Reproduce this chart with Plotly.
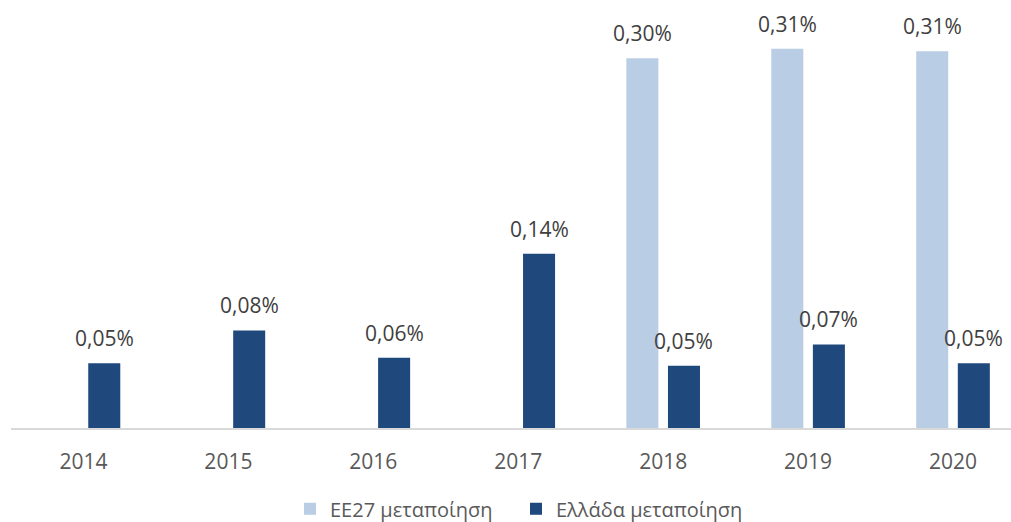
import plotly.graph_objects as go

# Share of manufacturing, % (EU27 vs Greece)
years = ["2014", "2015", "2016", "2017", "2018", "2019", "2020"]
eu27_values = [None, None, None, None, 0.3007, 0.3083, 0.3063]
greece_values = [0.0527, 0.0793, 0.0571, 0.1416, 0.0506, 0.0679, 0.0527]

eu27_name = "ΕΕ27 μεταποίηση"
greece_name = "Ελλάδα μεταποίηση"

LIGHT = "#B9CDE5"
DARK = "#1F497D"
FONT = "Open Sans"

positions = list(range(len(years)))
bar_w = 0.221
shift = 0.1435  # half distance between the centers of paired bars

fig = go.Figure()
fig.add_trace(go.Bar(
    x=positions, y=eu27_values, name=eu27_name,
    marker=dict(color=LIGHT, line=dict(width=0)),
    width=bar_w, offset=-shift - bar_w / 2,
))
fig.add_trace(go.Bar(
    x=positions, y=greece_values, name=greece_name,
    marker=dict(color=DARK, line=dict(width=0)),
    width=bar_w, offset=shift - bar_w / 2,
))


def pct(v):
    return f"{v:.2f}".replace(".", ",") + "%"


annotations = []
for xs, vals in ((-shift, eu27_values), (shift, greece_values)):
    for p, v in zip(positions, vals):
        if v is None:
            continue
        annotations.append(dict(
            x=p + xs, y=v, xref="x", yref="y", text=pct(v),
            showarrow=False, yanchor="middle", yshift=25,
            font=dict(family=FONT, size=21, color="#404040"),
        ))

fig.update_layout(
    width=1011, height=522,
    margin=dict(l=11, r=0, t=20, b=94, autoexpand=False),
    paper_bgcolor="white", plot_bgcolor="white",
    barmode="overlay",
    showlegend=True,
    legend=dict(
        orientation="h", x=0.505, xanchor="center", y=-0.198, yanchor="middle",
        font=dict(family=FONT, size=20, color="#595959"),
        entrywidth=181, entrywidthmode="pixels",
        borderwidth=0, tracegroupgap=0,
    ),
    annotations=annotations,
    xaxis=dict(
        range=[-0.5, 6.4], tickmode="array", tickvals=positions, ticktext=years,
        showgrid=False, zeroline=False, showline=True, linecolor="#D9D9D9", linewidth=1.5,
        ticks="", ticklabelstandoff=14,
        tickfont=dict(family=FONT, size=21, color="#595959"),
    ),
    yaxis=dict(
        range=[0, 408 / 1230], visible=False, showgrid=False, zeroline=False,
    ),
)

fig.write_html("out.html")
